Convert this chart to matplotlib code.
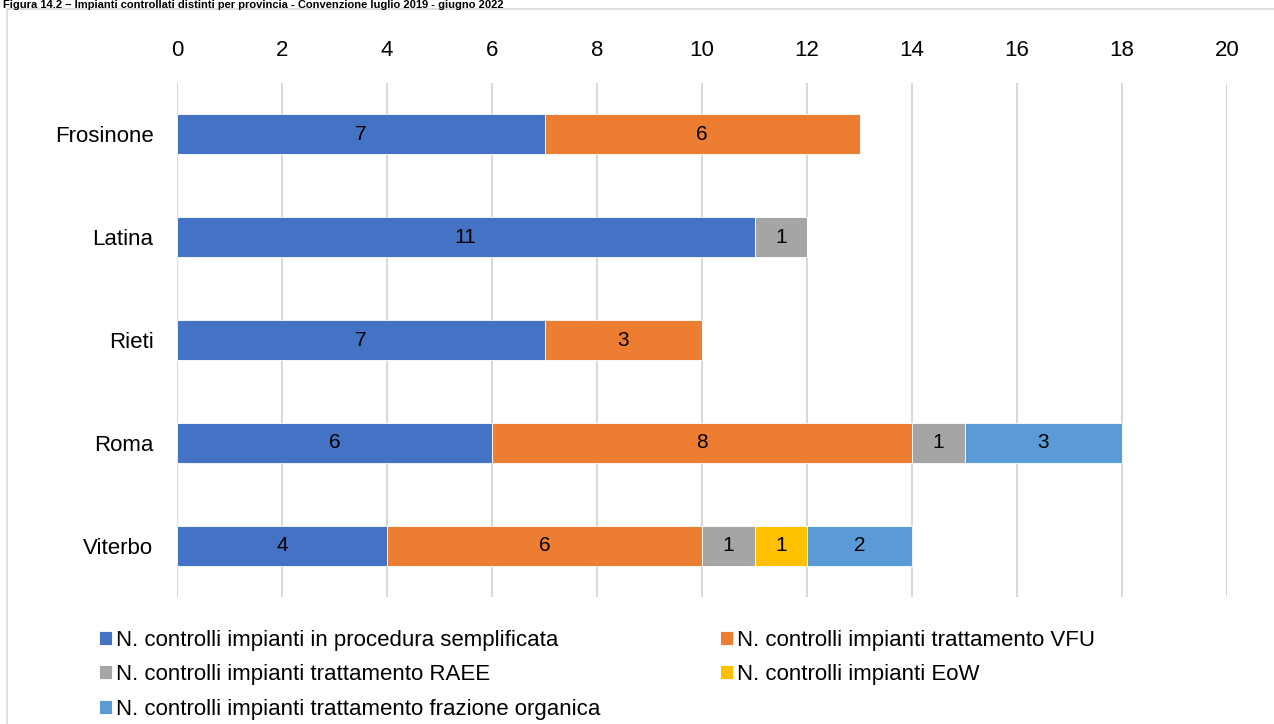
import numpy as np
import matplotlib.pyplot as plt
from matplotlib.patches import Rectangle

plt.rcParams['font.family'] = ['Liberation Sans Narrow', 'Liberation Sans', 'DejaVu Sans']

province = ['Frosinone', 'Latina', 'Rieti', 'Roma', 'Viterbo']
semplificata = [7, 11, 7, 6, 4]
vfu = [6, 0, 3, 8, 6]
raee = [0, 1, 0, 1, 1]
eow = [0, 0, 0, 0, 1]
organica = [0, 0, 0, 3, 2]

series = [
    ('N. controlli impianti in procedura semplificata', semplificata, '#4472C4'),
    ('N. controlli impianti trattamento VFU', vfu, '#ED7D31'),
    ('N. controlli impianti trattamento RAEE', raee, '#A5A5A5'),
    ('N. controlli impianti EoW', eow, '#FFC000'),
    ('N. controlli impianti trattamento frazione organica', organica, '#5B9BD5'),
]
xticks = np.arange(0, 21, 2)

W, H = 1274, 724
fig = plt.figure(figsize=(W / 100, H / 100), dpi=100)
ax = fig.add_axes([177 / W, 1 - 597 / H, 1050 / W, 514 / H])

# outer chart frame
fig.patches.append(Rectangle((7 / W, -0.05), 1.1, 1 - 9 / H + 0.05,
                             transform=fig.transFigure, fill=False,
                             edgecolor='#D9D9D9', linewidth=1.2))
fig.text(3 / W, 1.0,
         'Figura 14.2 – Impianti controllati distinti per provincia - Convenzione luglio 2019 - giugno 2022',
         fontsize=8, fontweight='bold', ha='left', va='top')

y = np.arange(len(province))
left = np.zeros(len(province))
handles = []
for label, vals, color in series:
    vals = np.array(vals, dtype=float)
    bars = ax.barh(y, vals, left=left, height=0.39, color=color,
                   edgecolor='white', linewidth=0.6, label=label, zorder=3)
    for b, v in zip(bars, vals):
        if v > 0:
            ax.text(b.get_x() + b.get_width() / 2, b.get_y() + b.get_height() / 2,
                    f'{int(v)}', ha='center', va='center', fontsize=15,
                    color='black', zorder=4)
    handles.append(bars)
    left += vals

ax.set_xlim(0, 20)
ax.set_ylim(len(province) - 0.5, -0.5)
ax.set_yticks(y)
ax.set_yticklabels(province, fontsize=16)
ax.set_xticks(xticks)
ax.set_xticklabels([str(t) for t in xticks], fontsize=16)
ax.xaxis.tick_top()
ax.tick_params(axis='x', length=0, pad=16)
ax.tick_params(axis='y', length=0, pad=17)
ax.grid(axis='x', color='#D9D9D9', linewidth=1.5, zorder=0)
for s in ax.spines.values():
    s.set_visible(False)

# legend is filled row by row: reorder for column-wise layout
order = [0, 2, 4, 1, 3]
fig.legend(handles=[handles[i] for i in order], loc='upper left',
           bbox_to_anchor=(90 / W, 1 - 621 / H),
           ncol=2, frameon=False, fontsize=16, handlelength=0.6, handleheight=0.6,
           handletextpad=0.15, columnspacing=5.4, labelspacing=0.6,
           borderaxespad=0)

fig.savefig('out.png', dpi=100)
